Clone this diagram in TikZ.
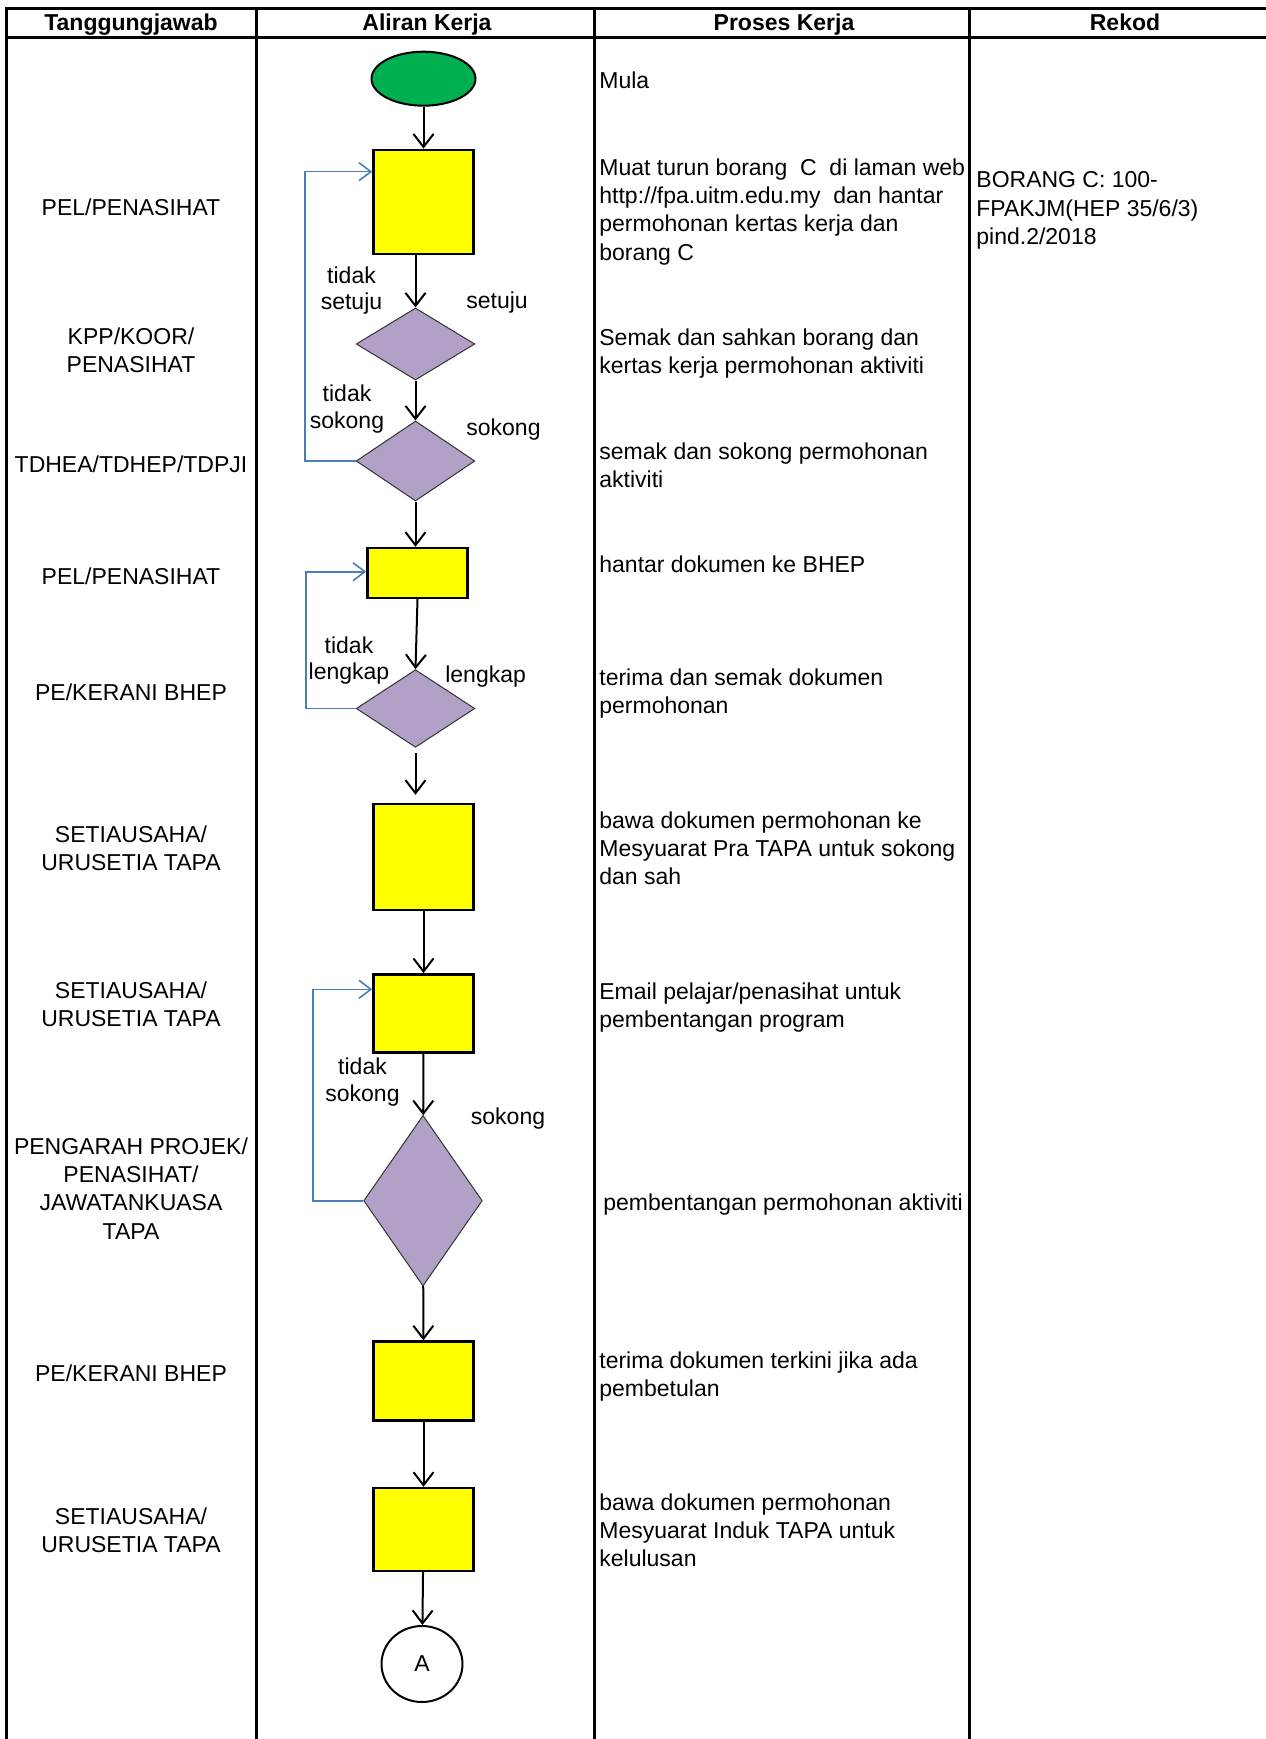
\documentclass[tikz,border=0pt]{standalone}
\usepackage{fontspec}
\setmainfont{Liberation Sans}
\usetikzlibrary{shapes.geometric,arrows.meta}
\definecolor{gfill}{HTML}{00B050}
\definecolor{yfill}{HTML}{FFFF00}
\definecolor{pfill}{HTML}{B2A1C7}
\definecolor{loopblue}{HTML}{4A7EBB}
\begin{document}
\begin{tikzpicture}[x=0.5pt,y=-0.5pt,
  every node/.style={font=\fontsize{11.5}{14.2}\selectfont, inner sep=0pt},
  tbl/.style={line width=1.5pt, line cap=rect},
  procbox/.style={draw, line width=1.2pt, fill=yfill, rectangle, minimum width=50pt},
  decis/.style={draw=black!80, line width=0.5pt, fill=pfill, diamond, minimum width=59.3pt},
  flow/.style={line width=1pt, -{Straight Barb[length=6.5pt,width=10pt,line width=1pt]}},
  back/.style={loopblue, line width=0.8pt, -{Straight Barb[length=6pt,width=9pt,line width=0.8pt]}},
  lbl/.style={align=center, anchor=base},
  flbl/.style={align=center, anchor=base, font=\fontsize{11.5}{13.3}\selectfont},
  txt/.style={align=left, anchor=base west},
  hdr/.style={font=\bfseries\fontsize{11.5}{14}\selectfont, anchor=base}]
\useasboundingbox (0,0) rectangle (1265,1739);

% table
\draw[tbl] (6,9) -- (1265,9);
\draw[tbl] (6,38) -- (1265,38);
\foreach \x in {6,256,594,969} \draw[tbl] (\x,9) -- (\x,1745);

% headers
\node[hdr] (h1) at (131,31) {Tanggungjawab};
\node[hdr] (h2) at (427,31) {Aliran Kerja};
\node[hdr] (h3) at (784,31) {Proses Kerja};
\node[hdr] (h4) at (1125,31) {Rekod};

% Tanggungjawab (anchor = baseline of last line)
\node[lbl] (r1) at (131,216) {PEL/PENASIHAT};
\node[lbl] (r2) at (131,372.4) {KPP/KOOR/\\PENASIHAT};
\node[lbl] (r3) at (131,472) {TDHEA/TDHEP/TDPJI};
\node[lbl] (r4) at (131,584) {PEL/PENASIHAT};
\node[lbl] (r5) at (131,700) {PE/KERANI BHEP};
\node[lbl] (r6) at (131,870.4) {SETIAUSAHA/\\URUSETIA TAPA};
\node[lbl] (r7) at (131,1026.4) {SETIAUSAHA/\\URUSETIA TAPA};
\node[lbl] (r8) at (131,1239.2) {PENGARAH PROJEK/\\PENASIHAT/\\JAWATANKUASA\\TAPA};
\node[lbl] (r9) at (131,1381) {PE/KERANI BHEP};
\node[lbl] (r10) at (131,1552.4) {SETIAUSAHA/\\URUSETIA TAPA};

% Proses Kerja
\node[txt] (p1) at (599,89) {Mula};
\node[txt] (p2) at (599,260.2) {Muat turun borang\ \ C\ \ di laman web\\http://fpa.uitm.edu.my\ \ dan hantar\\permohonan kertas kerja dan\\borang C};
\node[txt] (p3) at (599,373.4) {Semak dan sahkan borang dan\\kertas kerja permohonan aktiviti};
\node[txt] (p4) at (599,487.4) {semak dan sokong permohonan\\aktiviti};
\node[txt] (p5) at (599,572) {hantar dokumen ke BHEP};
\node[txt] (p6) at (599,713.4) {terima dan semak dokumen\\permohonan};
\node[txt] (p7) at (599,884.8) {bawa dokumen permohonan ke\\Mesyuarat Pra TAPA untuk sokong\\dan sah};
\node[txt] (p8) at (599,1027.4) {Email pelajar/penasihat untuk\\pembentangan program};
\node[txt] (p9) at (603,1210) {pembentangan permohonan aktiviti};
\node[txt] (p10) at (599,1396.4) {terima dokumen terkini jika ada\\pembetulan};
\node[txt] (p11) at (599,1566.8) {bawa dokumen permohonan\\Mesyuarat Induk TAPA untuk\\kelulusan};

% Rekod
\node[txt] (k1) at (976,244.8) {BORANG C: 100-\\FPAKJM(HEP 35/6/3)\\pind.2/2018};

% flow shapes
\node[draw, ellipse, fill=gfill, line width=1pt, minimum width=52pt, minimum height=27pt] (s) at (423.5,78.7) {};
\node[procbox, minimum height=52pt] (b1) at (423.5,201.8) {};
\node[decis, minimum height=36pt] (d1) at (415.5,344) {};
\node[decis, minimum height=40pt] (d2) at (415.5,461) {};
\node[procbox, minimum height=25pt] (b2) at (417.5,573) {};
\node[decis, minimum height=38.8pt] (d3) at (415.5,708.5) {};
\node[procbox, minimum height=53pt] (b3) at (423.5,857) {};
\node[procbox, minimum height=39pt] (b4) at (423.5,1013.3) {};
\node[decis, minimum height=85.3pt] (d4) at (423,1200.7) {};
\node[procbox, minimum height=39.5pt] (b5) at (423.5,1381) {};
\node[procbox, minimum height=41.5pt] (b6) at (423.5,1529.5) {};
\node[draw, ellipse, line width=1pt, minimum width=40.5pt, minimum height=38pt] (A) at (422,1664) {A};

% connectors
\draw[flow] (s) -- (b1);
\draw[flow] (d1.north |- b1.south) -- (d1.north);
\draw[flow] (d1.south) -- (d2.north);
\draw[flow] (d2.south) -- (d2.south |- b2.north);
\draw[flow] (b2.south) -- (d3.north);
\draw[flow, shorten <=2.5pt, shorten >=4pt] (d3.south) -- (d3.south |- b3.north);
\draw[flow] (b3) -- (b4);
\draw[flow] (b4) -- (d4);
\draw[flow] (d4) -- (b5);
\draw[flow] (b5) -- (b6);
\draw[flow] (b6) -- (A);

% loops
\coordinate (L1) at (305,171.7);
\draw[back] (d2.west) -| (L1) -- (L1 -| b1.west);
\coordinate (L2) at (306,571.7);
\draw[back] (d3.west) -| (L2) -- (L2 -| b2.west);
\coordinate (L3) at (313,989.3);
\draw[back] (d4.west) -| (L3) -- (L3 -| b4.west);

% branch labels
\node[flbl] (t1) at (351.5,309.6) {tidak\\setuju};
\node[flbl] (t2) at (497,308.5) {setuju};
\node[flbl] (t3) at (347,428.2) {tidak\\sokong};
\node[flbl] (t4) at (503.5,435) {sokong};
\node[flbl] (t5) at (349,679.6) {tidak\\lengkap};
\node[flbl] (t6) at (485.6,682) {lengkap};
\node[flbl] (t7) at (362.5,1101.2) {tidak\\sokong};
\node[flbl] (t8) at (508,1124.5) {sokong};
\end{tikzpicture}
\end{document}
